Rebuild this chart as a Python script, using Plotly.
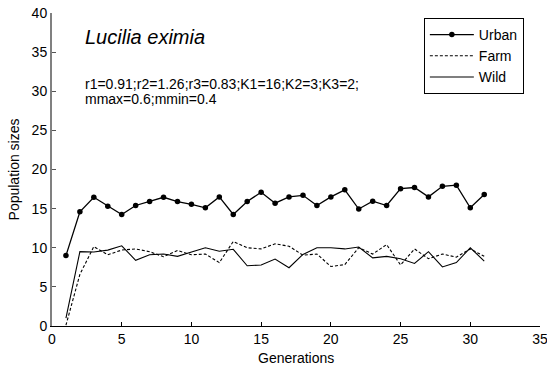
import plotly.graph_objects as go

generations = list(range(1, 32))
urban = [9.0, 14.6, 16.45, 15.3, 14.25, 15.4, 15.9, 16.45, 15.9, 15.55, 15.1, 16.5, 14.25, 15.9, 17.1, 15.7,
         16.5, 16.7, 15.4, 16.5, 17.4, 14.95, 15.95, 15.4, 17.55, 17.7, 16.5, 17.85, 18.0, 15.1, 16.8]
farm = [0.1, 6.6, 10.15, 9.1, 9.7, 9.85, 9.5, 8.85, 9.65, 9.1, 9.2, 8.1, 10.8, 10.0, 9.85, 10.5,
        10.2, 9.05, 9.2, 7.6, 7.85, 10.0, 9.2, 10.4, 7.8, 9.85, 8.6, 9.2, 8.8, 9.85, 8.9]
wild = [1.0, 9.5, 9.45, 9.7, 10.25, 8.4, 9.1, 9.2, 8.9, 9.5, 10.0, 9.55, 9.8, 7.7, 7.8, 8.55,
        7.45, 9.15, 10.0, 10.0, 9.85, 10.1, 8.7, 8.9, 8.6, 8.0, 9.5, 7.55, 8.1, 10.0, 8.3]

x_ticks = [0, 5, 10, 15, 20, 25, 30, 35]
y_ticks = [0, 5, 10, 15, 20, 25, 30, 35, 40]

FONT = "Liberation Sans, Arial, sans-serif"

fig = go.Figure()
fig.add_trace(go.Scatter(x=generations, y=urban, name="Urban", mode="lines+markers",
                         line=dict(color="black", width=1.3),
                         marker=dict(color="black", size=5.5, symbol="circle")))
fig.add_trace(go.Scatter(x=generations, y=farm, name="Farm", mode="lines",
                         line=dict(color="black", width=1.1, dash="3px,2px")))
fig.add_trace(go.Scatter(x=generations, y=wild, name="Wild", mode="lines",
                         line=dict(color="black", width=1.1)))

fig.add_annotation(x=2.2, y=36.9, xref="x", yref="y", text="<i>Lucilia eximia</i>",
                   showarrow=False, xanchor="left", yanchor="middle",
                   font=dict(family=FONT, size=20, color="black"))
fig.add_annotation(x=2.2, y=30.96, xref="x", yref="y", text="r1=0.91;r2=1.26;r3=0.83;K1=16;K2=3;K3=2;",
                   showarrow=False, xanchor="left", yanchor="middle",
                   font=dict(family=FONT, size=14, color="black"))
fig.add_annotation(x=2.2, y=29.05, xref="x", yref="y", text="mmax=0.6;mmin=0.4",
                   showarrow=False, xanchor="left", yanchor="middle",
                   font=dict(family=FONT, size=14, color="black"))

# axis titles
fig.add_annotation(x=0.5, y=-0.102, xref="paper", yref="paper", text="Generations",
                   showarrow=False, xanchor="center", yanchor="middle",
                   font=dict(family=FONT, size=14, color="black"))
fig.add_annotation(x=-0.078, y=0.5, xref="paper", yref="paper", text="Population sizes",
                   showarrow=False, xanchor="center", yanchor="middle", textangle=-90,
                   font=dict(family=FONT, size=14, color="black"))

fig.update_layout(
    width=547, height=371,
    margin=dict(l=52, r=7, t=13, b=45),
    paper_bgcolor="white", plot_bgcolor="white",
    font=dict(family=FONT, size=14, color="black"),
    showlegend=True,
    legend=dict(x=0.762, y=0.984, xanchor="left", yanchor="top",
                bordercolor="black", borderwidth=1, bgcolor="white",
                font=dict(family=FONT, size=14, color="black"),
                itemwidth=44, tracegroupgap=0),
    xaxis=dict(range=[0, 35], tickvals=x_ticks, ticks="inside", ticklen=4, tickcolor="black",
               showline=True, linecolor="black", linewidth=1, showgrid=False, zeroline=False,
               ticklabeloverflow="allow", automargin=False,
               tickfont=dict(size=14)),
    yaxis=dict(range=[0, 40], tickvals=y_ticks, ticks="inside", ticklen=4, tickcolor="#555555",
               showline=True, linecolor="#808080", linewidth=2, showgrid=False, zeroline=False,
               ticklabeloverflow="allow", automargin=False,
               tickfont=dict(size=14)),
)

fig.write_html("out.html")
